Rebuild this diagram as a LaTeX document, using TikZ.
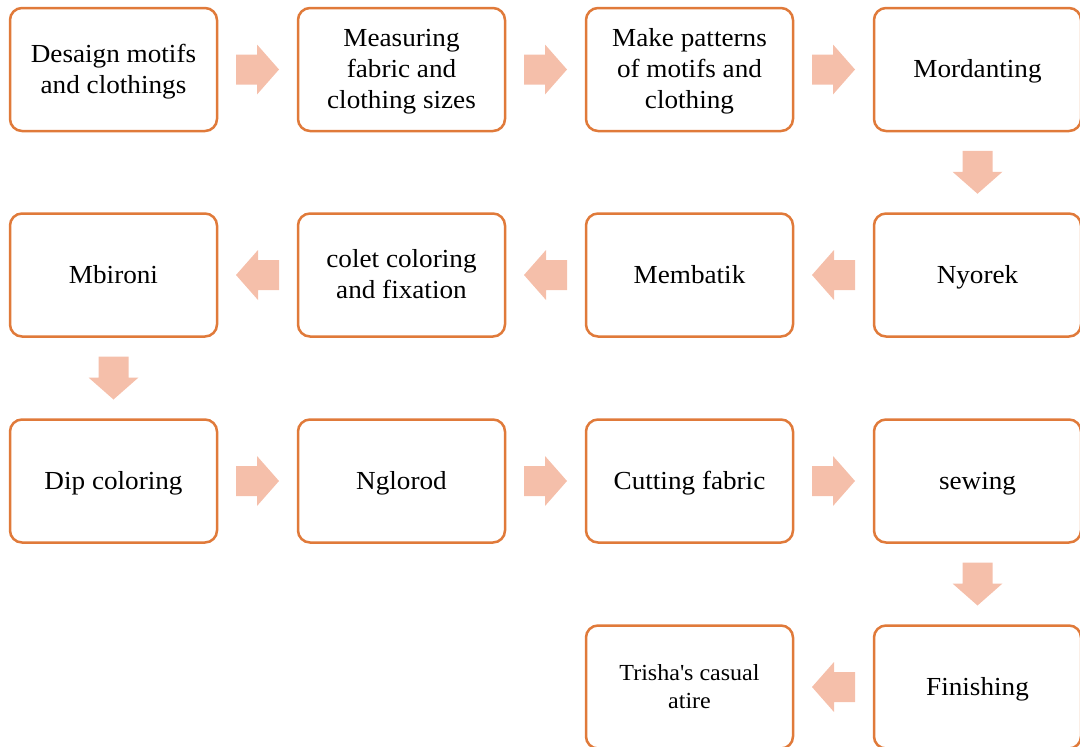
\documentclass[tikz,border=0pt]{standalone}
\usepackage{fontspec}
\setmainfont{Liberation Serif}[FakeStretch=1.045]
\usetikzlibrary{calc}
\definecolor{boxline}{HTML}{E07A3A}
\definecolor{arrowfill}{HTML}{F5BFAA}
\newcommand\lsA{\rule[-7.5pt]{0pt}{31pt}}
\newcommand\lsB{\rule[-7pt]{0pt}{28pt}}
\tikzset{
  stepbox/.style={draw=boxline, line width=2.5pt, rounded corners=12pt, fill=white,
    minimum width=207pt, minimum height=123pt, inner sep=0pt, outer sep=0pt},
  steptext/.style={align=center, inner sep=0pt, font=\fontsize{26pt}{31pt}\selectfont, text=black},
  smalltext/.style={font=\fontsize{23pt}{28pt}\selectfont},
  blockarrow/.pic={
    \fill[arrowfill] (-21.5,-15) -- (-0.5,-15) -- (-0.5,-25) -- (21.5,0)
      -- (-0.5,25) -- (-0.5,15) -- (-21.5,15) -- cycle;
  }
}
\begin{document}
\begin{tikzpicture}[x=1pt,y=-1pt]
\useasboundingbox (0,0) rectangle (1080,747);
% boxes
\node[stepbox] (a1) at (113.5,69.5) {};
\node[stepbox] (a2) at (401.5,69.5) {};
\node[stepbox] (a3) at (689.5,69.5) {};
\node[stepbox] (a4) at (977.5,69.5) {};
\node[stepbox] (b1) at (113.5,275) {};
\node[stepbox] (b2) at (401.5,275) {};
\node[stepbox] (b3) at (689.5,275) {};
\node[stepbox] (b4) at (977.5,275) {};
\node[stepbox] (c1) at (113.5,481) {};
\node[stepbox] (c2) at (401.5,481) {};
\node[stepbox] (c3) at (689.5,481) {};
\node[stepbox] (c4) at (977.5,481) {};
\node[stepbox] (d3) at (689.5,687) {};
\node[stepbox] (d4) at (977.5,687) {};
% texts
\node[steptext] (a1t) at (a1.center) {\lsA Desaign motifs\\\lsA and clothings};
\node[steptext] (a2t) at (a2.center) {\lsA Measuring\\\lsA fabric and\\\lsA clothing sizes};
\node[steptext] (a3t) at (a3.center) {\lsA Make patterns\\\lsA of motifs and\\\lsA clothing};
\node[steptext] (a4t) at (a4.center) {\lsA Mordanting};
\node[steptext] (b1t) at (b1.center) {\lsA Mbironi};
\node[steptext] (b2t) at (b2.center) {\lsA colet coloring\\\lsA and fixation};
\node[steptext] (b3t) at (b3.center) {\lsA Membatik};
\node[steptext] (b4t) at (b4.center) {\lsA Nyorek};
\node[steptext] (c1t) at (c1.center) {\lsA Dip coloring};
\node[steptext] (c2t) at (c2.center) {\lsA Nglorod};
\node[steptext] (c3t) at (c3.center) {\lsA Cutting fabric};
\node[steptext] (c4t) at (c4.center) {\lsA sewing};
\node[steptext,smalltext] (d3t) at (d3.center) {\lsB Trisha\textquotesingle s casual\\\lsB atire};
\node[steptext] (d4t) at (d4.center) {\lsA Finishing};
% arrows
\pic at ($(a1.east)!0.5!(a2.west)$) {blockarrow};
\pic at ($(a2.east)!0.5!(a3.west)$) {blockarrow};
\pic at ($(a3.east)!0.5!(a4.west)$) {blockarrow};
\pic[rotate=-90] at ($(a4.south)!0.5!(b4.north)$) {blockarrow};
\pic[rotate=180] at ($(b4.west)!0.5!(b3.east)$) {blockarrow};
\pic[rotate=180] at ($(b3.west)!0.5!(b2.east)$) {blockarrow};
\pic[rotate=180] at ($(b2.west)!0.5!(b1.east)$) {blockarrow};
\pic[rotate=-90] at ($(b1.south)!0.5!(c1.north)$) {blockarrow};
\pic at ($(c1.east)!0.5!(c2.west)$) {blockarrow};
\pic at ($(c2.east)!0.5!(c3.west)$) {blockarrow};
\pic at ($(c3.east)!0.5!(c4.west)$) {blockarrow};
\pic[rotate=-90] at ($(c4.south)!0.5!(d4.north)$) {blockarrow};
\pic[rotate=180] at ($(d4.west)!0.5!(d3.east)$) {blockarrow};
\end{tikzpicture}
\end{document}
